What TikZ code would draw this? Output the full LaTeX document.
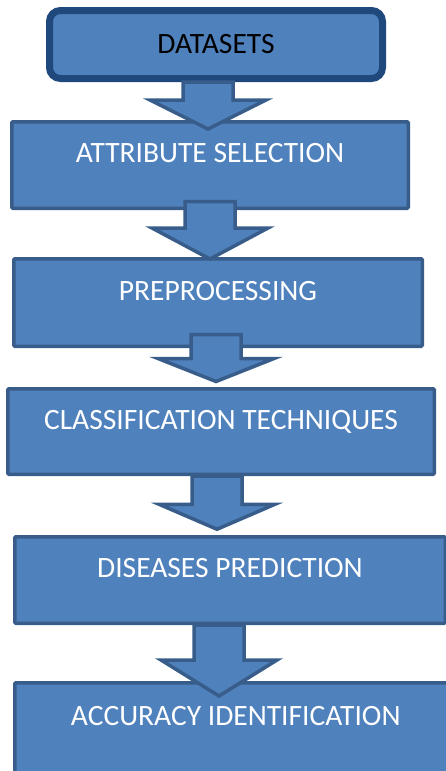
\documentclass[tikz,border=0pt]{standalone}
\usepackage{fontspec}
\setmainfont{Carlito}
\usepackage{xcolor}
\definecolor{flowfill}{HTML}{4F81BD}
\definecolor{flowline}{HTML}{385D8A}
\definecolor{flowdark}{HTML}{1F497D}
\usetikzlibrary{calc}

% block arrow: source, target, x, shaft top shift, tip shift, head length
\newcommand{\blockarrow}[6]{%
  \draw[flowarrow] let \p1=(#3,0 |- #1.south), \p2=(#3,0 |- #2.north) in
    ({\x1-25pt},{\y1+(#4)}) -- ({\x1+25pt},{\y1+(#4)})
    -- ({\x1+25pt},{\y2-(#5)+(#6)}) -- ({\x1+58pt},{\y2-(#5)+(#6)})
    -- ({\x1},{\y2-(#5)}) -- ({\x1-58pt},{\y2-(#5)+(#6)})
    -- ({\x1-25pt},{\y2-(#5)+(#6)}) -- cycle;}

\begin{document}
\begin{tikzpicture}[x=1pt, y=-1pt,
    startbox/.style={draw=flowdark, line width=7pt, fill=flowfill,
                     rounded corners=11pt, minimum width=333pt, minimum height=68pt,
                     font=\fontsize{29.5}{35}\selectfont, text=black},
    stepbox/.style={draw=flowline, line width=3.5pt, fill=flowfill,
                    rounded corners=1pt, minimum height=86.5pt,
                    text height=19pt, text depth=24pt,
                    font=\fontsize{29.5}{35}\selectfont, text=white},
    flowarrow/.style={draw=flowline, line width=3.5pt, fill=flowfill, line join=miter}
  ]
    \useasboundingbox (0,0) rectangle (446,771);
    \node[startbox] (data) at (216,44.5) {DATASETS};
    \node[stepbox, minimum width=396.5pt] (attr) at (210,165) {ATTRIBUTE SELECTION};
    \node[stepbox, minimum width=408.5pt, minimum height=87.5pt] (prep) at (218,302.5) {PREPROCESSING};
    \node[stepbox, minimum width=426.5pt, minimum height=85.5pt] (clas) at (221,431.5) {CLASSIFICATION TECHNIQUES};
    \node[stepbox, minimum width=430.5pt] (pred) at (230,580) {DISEASES PREDICTION};
    \node[stepbox, minimum width=442pt, minimum height=90pt] (accu) at (235.75,727.75) {ACCURACY IDENTIFICATION};
    \blockarrow{data}{attr}{208}{0pt}{9pt}{29pt}
    \blockarrow{attr}{prep}{210}{8.5pt}{2pt}{31pt}
    \blockarrow{prep}{clas}{216}{13.5pt}{-5.5pt}{23pt}
    \blockarrow{clas}{pred}{217}{0pt}{-5.75pt}{25pt}
    \blockarrow{pred}{accu}{219}{0pt}{15pt}{36pt}
  \end{tikzpicture}
\end{document}
